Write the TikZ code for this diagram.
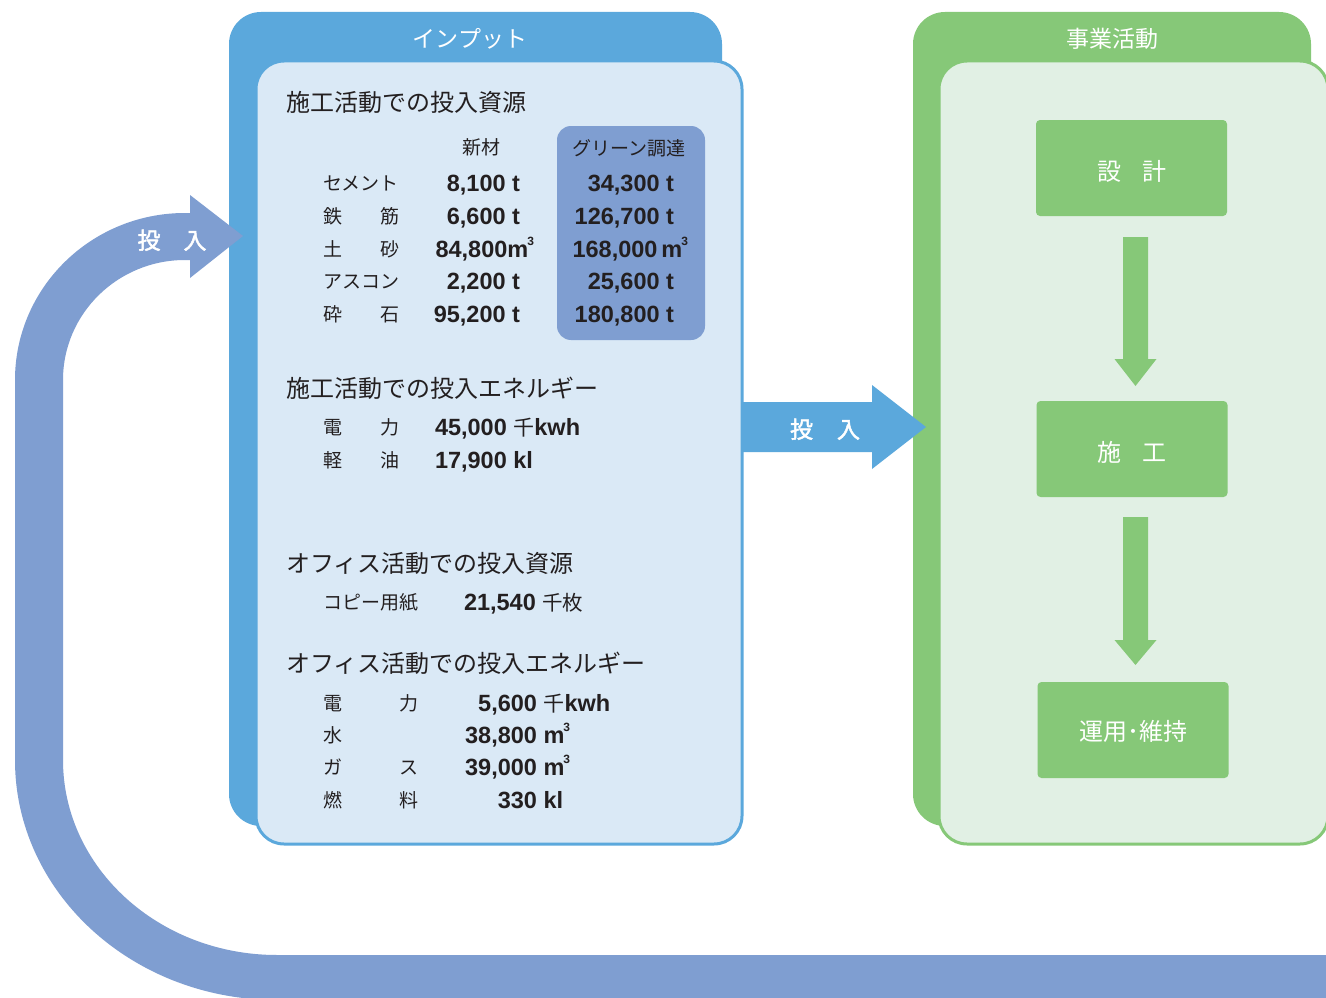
\documentclass[tikz,border=0pt]{standalone}
\usepackage{fontspec}
\setmainfont{Liberation Sans}
\newfontfamily\jp{Noto Sans CJK JP}
\newfontfamily\jpb{Noto Sans CJK JP}[FakeBold=2]
\definecolor{inblue}{HTML}{5BA8DC}
\definecolor{inlight}{HTML}{DAE9F6}
\definecolor{band}{HTML}{7F9ED1}
\definecolor{gr}{HTML}{86C878}
\definecolor{grlight}{HTML}{E1F0E4}
\definecolor{ink}{HTML}{231F20}
\newcommand\mycube{\kern-1pt\raisebox{11.5pt}{\fontsize{12}{12}\selectfont 3}}
\newcommand\mysen{{\jp\mdseries\fontsize{21}{21}\selectfont 千}}
\begin{document}
\begin{tikzpicture}[x=1pt,y=-1pt,
  every node/.style={inner sep=0pt, outer sep=0pt},
  head/.style={font=\jp\fontsize{24}{24}\selectfont, text=ink, anchor=base west},
  lab/.style={font=\jp\fontsize{19}{19}\selectfont, text=ink, anchor=base west},
  colhead/.style={font=\jp\fontsize{19}{19}\selectfont, text=ink, anchor=base},
  val/.style={font=\bfseries\fontsize{23.5}{24}\selectfont, text=ink, anchor=base east},
  valw/.style={val, anchor=base west},
  title/.style={font=\jp\fontsize{23}{23}\selectfont, text=white, anchor=base},
  gbox/.style={fill=gr, rounded corners=4pt, minimum width=191pt, minimum height=96pt},
  boxlab/.style={font=\jp\fontsize{24}{24}\selectfont, text=white, anchor=base},
  arrlab/.style={font=\jpb\fontsize{23}{23}\selectfont, text=white, anchor=base}]
\clip (0,0) rectangle (1326,998);
\fill[white] (0,0) rectangle (1326,998);

% input panel
\fill[inblue, rounded corners=32pt] (229,12) rectangle (722,826);
\draw[line width=3pt, draw=inblue, fill=inlight, rounded corners=28pt] (256,61) rectangle (742,844);
\fill[band, rounded corners=14pt] (557,126) rectangle (705,340);
\node[title] (tin) at (470,47.5) {インプット};

% business panel
\fill[gr, rounded corners=32pt] (913,12) rectangle (1311,826);
\draw[line width=3pt, draw=gr, fill=grlight, rounded corners=28pt] (939,61) rectangle (1328,844);
\node[title] (tact) at (1112,47.5) {事業活動};

\node[gbox] (sekkei) at (1131.5,168) {};
\node[gbox] (sekou) at (1132,449) {};
\node[gbox] (unyou) at (1133,730) {};
\node[boxlab] (sekkeiT) at (1131.5,180) {設\hspace{21pt}計};
\node[boxlab] (sekouT) at (1132,461) {施\hspace{21pt}工};
\node[boxlab] (unyouT) at (1133,740) {運用･維持};

\fill[gr] (sekkei.south) ++(-8.5,21) -- ++(25,0) -- ++(0,122) -- ++(8.5,0) -- ++(-21,27) -- ++(-21,-27) -- ++(8.5,0) -- cycle;
\fill[gr] (sekou.south) ++(-9,20) -- ++(25,0) -- ++(0,123) -- ++(8.5,0) -- ++(-21,25) -- ++(-21,-25) -- ++(8.5,0) -- cycle;

% middle arrow
\coordinate (inE) at (742,427);
\fill[inblue] (inE) ++(0,-25) -- ++(130,0) -- ++(0,-17) -- ++(54,42) -- ++(-54,42) -- ++(0,-17) -- ++(-130,0) -- cycle;
\node[arrlab] (a1) at (825,438) {投\hspace{24pt}入};

% feedback band
\fill[band] (190,213) -- (185,213)
  .. controls (91.1,213) and (15,287.8) .. (15,380)
  -- (15,760)
  .. controls (15,892.6) and (132.3,1000) .. (277,1000)
  -- (1340,1000) -- (1340,955) -- (277,955)
  .. controls (158.8,955) and (63,867.7) .. (63,760)
  -- (63,380)
  .. controls (63,313.7) and (117.6,260) .. (185,260)
  -- (190,260) -- (190,278) -- (243,236) -- (190,195) -- cycle;
\node[arrlab] (a2) at (172,249) {投\hspace{23pt}入};

% construction resources
\node[head] (h1) at (286,111) {施工活動での投入資源};
\node[colhead] (c1) at (481,154) {新材};
\node[colhead] (c2) at (629,155) {グリーン調達};
\node[lab] (l1) at (323,190) {\makebox[77pt][s]{セメント}};
\node[lab] (l2) at (323,223) {\makebox[77pt][s]{鉄\hfill 筋}};
\node[lab] (l3) at (323,256) {\makebox[77pt][s]{土\hfill 砂}};
\node[lab] (l4) at (323,288) {アスコン};
\node[lab] (l5) at (323,321) {\makebox[77pt][s]{砕\hfill 石}};
\node[val] (n1) at (520,191) {8,100 t};
\node[val] (n2) at (520,224) {6,600 t};
\node[val] (n3) at (534,257) {84,800m\mycube};
\node[val] (n4) at (520,289) {2,200 t};
\node[val] (n5) at (520,322) {95,200 t};
\node[val] (g1) at (674,191) {34,300 t};
\node[val] (g2) at (674,224) {126,700 t};
\node[val] (g3) at (688,257) {168,000\,m\mycube};
\node[val] (g4) at (674,289) {25,600 t};
\node[val] (g5) at (674,322) {180,800 t};

% construction energy
\node[head] (h2) at (286,397) {施工活動での投入エネルギー};
\node[lab] (e1) at (323,434) {\makebox[77pt][s]{電\hfill 力}};
\node[valw] (ev1) at (435,435) {45,000 \mysen kwh};
\node[lab] (e2) at (323,467) {\makebox[77pt][s]{軽\hfill 油}};
\node[valw] (ev2) at (435,468) {17,900 kl};

% office resources
\node[head] (h3) at (286,572) {オフィス活動での投入資源};
\node[lab] (o1) at (323,609) {コピー用紙};
\node[valw] (ov1) at (464,610) {21,540 {\jp\mdseries\fontsize{20.5}{20.5}\selectfont 千枚}};

% office energy
\node[head] (h4) at (286,672) {オフィス活動での投入エネルギー};
\node[lab] (f1) at (323,710) {\makebox[95pt][s]{電\hfill 力}};
\node[valw] (fv1) at (537,711) {\llap{5,600} \mysen kwh};
\node[lab] (f2) at (323,742) {水};
\node[valw] (fv2) at (537,743) {\llap{38,800} m\mycube};
\node[lab] (f3) at (323,774) {\makebox[95pt][s]{ガ\hfill ス}};
\node[valw] (fv3) at (537,775) {\llap{39,000} m\mycube};
\node[lab] (f4) at (323,807) {\makebox[95pt][s]{燃\hfill 料}};
\node[valw] (fv4) at (537,808) {\llap{330} kl};
\end{tikzpicture}
\end{document}
